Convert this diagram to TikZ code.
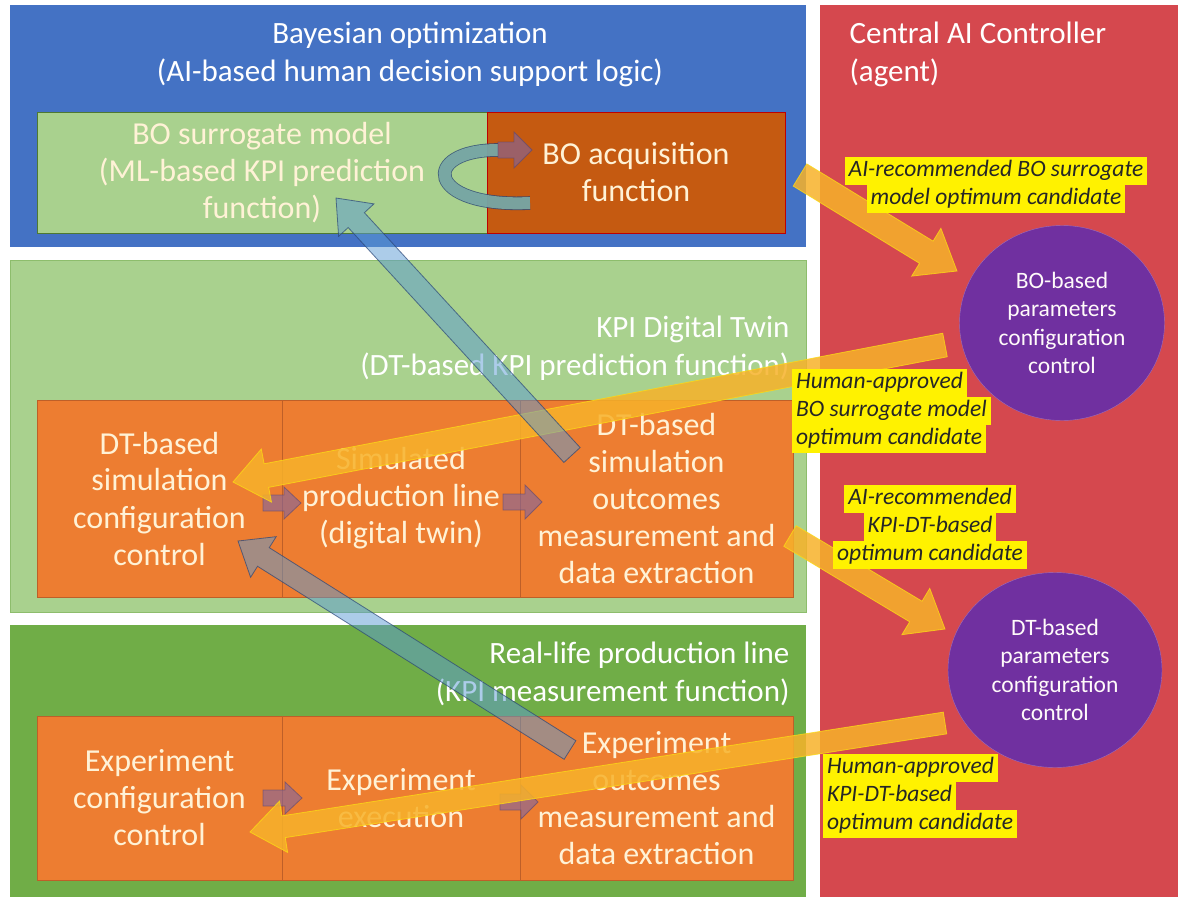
\documentclass[tikz,border=0pt]{standalone}
\usepackage{fontspec}
\setmainfont{Carlito}
\usepackage{xcolor}
\usetikzlibrary{calc, shapes.geometric}

\definecolor{boblue}{RGB}{68,114,196}
\definecolor{ctrlred}{RGB}{213,72,78}
\definecolor{dtgreen}{RGB}{169,209,142}
\definecolor{realgreen}{RGB}{112,173,71}
\definecolor{cellorange}{RGB}{237,125,49}
\definecolor{cellline}{RGB}{190,95,40}
\definecolor{acqorange}{RGB}{197,90,17}
\definecolor{ctrlpurple}{RGB}{112,48,160}
\definecolor{flowamber}{RGB}{247,178,42}
\definecolor{flowblue}{RGB}{91,155,213}
\definecolor{stepviolet}{RGB}{128,100,162}
\definecolor{cream}{RGB}{255,242,214}

\newcommand{\cellfont}{\fontsize{32}{37}\selectfont}
\newcommand{\titlefont}{\fontsize{31}{38}\selectfont}
\newcommand{\ctrlfont}{\fontsize{23.5}{28.5}\selectfont}
\newcommand{\notefont}{\fontsize{23.5}{28}\selectfont\itshape}
\newcommand{\hl}[1]{{\fboxsep=0pt\colorbox{yellow}{\strut\,#1\,}}}

% block arrow: style, from, to, half shaft, half head, head length
\newcommand{\fatarrow}[6]{%
  \coordinate (fa-neck) at ($(#3)!#6!(#2)$);
  \filldraw[#1] ($(#2)!#4!90:(#3)$) -- ($(fa-neck)!#4!90:(#3)$) -- ($(fa-neck)!#5!90:(#3)$)
    -- (#3) -- ($(fa-neck)!#5!-90:(#3)$) -- ($(fa-neck)!#4!-90:(#3)$) -- ($(#2)!#4!-90:(#3)$) -- cycle;
}

\begin{document}
\begin{tikzpicture}[x=1pt, y=-1pt,
  cell/.style={draw=cellline, fill=cellorange, text=cream, font=\cellfont, align=center, inner sep=0pt},
  ctrl/.style={ellipse, fill=ctrlpurple, draw=ctrlpurple!70!white, text=white!92!pink, font=\ctrlfont,
    align=center, minimum width=205pt, minimum height=195pt},
  title/.style={text=white, font=\titlefont},
  note/.style={font=\notefont, text=black!85, inner sep=0pt},
  amber/.style={fill=flowamber, fill opacity=0.85, draw=flowamber!50!yellow, draw opacity=0.8, line width=0.8pt},
  steel/.style={fill=flowblue, fill opacity=0.5, draw=boblue!60!black, draw opacity=0.7, line width=0.8pt},
  nudge/.style={fill=stepviolet, fill opacity=0.6, draw=stepviolet!70!black, draw opacity=0.6, line width=0.8pt}]

\fill[white] (0,0) rectangle (1178,897);
\useasboundingbox (0,0) rectangle (1178,897);

% panels
\fill[boblue] (10,5) rectangle (806,247);
\fill[ctrlred] (820,5) rectangle (1178,897);
\filldraw[fill=dtgreen, draw=realgreen!80!white] (10,260) rectangle (806,612);
\fill[realgreen] (10,625) rectangle (806,897);

\node[title, align=center] (botitle) at (410,54) {Bayesian optimization\\(AI-based human decision support logic)};
\node[title, align=left, anchor=west] (ctrltitle) at (846,54) {Central AI Controller\\(agent)};
\node[title, align=right, anchor=east] (dttitle) at (793,348) {KPI Digital Twin\\(DT-based KPI prediction function)};
\node[title, align=right, anchor=east] (realtitle) at (793,674) {Real-life production line\\(KPI measurement function)};

% Bayesian optimization boxes
\node[cell, fill=dtgreen, draw=realgreen!70!black, minimum width=450pt, minimum height=121pt] (surrogate) at (262,172.5)
  {BO surrogate model\\(ML-based KPI prediction\\function)};
\node[cell, fill=acqorange, draw=red!75!black, minimum width=298pt, minimum height=121pt] (acq) at (636,172.5)
  {BO acquisition\\function};

% digital twin row
\node[cell, minimum width=245pt, minimum height=197pt] (dtcfg) at (159.5,498.5) {DT-based\\simulation\\configuration\\control};
\node[cell, minimum width=238pt, minimum height=197pt] (dtline) at (401,498.5) {Simulated\\production line\\(digital twin)};
\node[cell, minimum width=273pt, minimum height=197pt] (dtmeas) at (656.5,498.5) {DT-based\\simulation\\outcomes\\measurement and\\data extraction};

% real-life row
\node[cell, minimum width=245pt, minimum height=164pt] (excfg) at (159.5,798) {Experiment\\configuration\\control};
\node[cell, minimum width=238pt, minimum height=164pt] (exrun) at (401,798) {Experiment\\execution};
\node[cell, minimum width=273pt, minimum height=164pt] (exmeas) at (656.5,798) {Experiment\\outcomes\\measurement and\\data extraction};

% controller
\node[ctrl] (boctrl) at (1062,323) {BO-based\\parameters\\configuration\\control};
\node[ctrl, minimum width=214pt] (dtctrl) at (1055,670) {DT-based\\parameters\\configuration\\control};

% arrow ends
\coordinate (o1a) at (800,175);  \coordinate (o1b) at (957,271);
\coordinate (o2a) at (945,345);  \coordinate (o2b) at (233,482);
\coordinate (o3a) at (790,536);  \coordinate (o3b) at (945,629);
\coordinate (o4a) at (945,723);  \coordinate (o4b) at (250,832);
\coordinate (b1a) at (572,455);  \coordinate (b1b) at (336,198);
\coordinate (b2a) at (570,750);  \coordinate (b2b) at (238,541);
\coordinate (s1a) at (263,503);  \coordinate (s1b) at (301,503);
\coordinate (s2a) at (503,502);  \coordinate (s2b) at (542,502);
\coordinate (s3a) at (263,798);  \coordinate (s3b) at (302,798);
\coordinate (s4a) at (500,802);  \coordinate (s4b) at (538,802);
\coordinate (r1a) at (498,150);  \coordinate (r1b) at (532,150);

% small arrows between cells
\fatarrow{nudge}{s1a}{s1b}{8pt}{16pt}{17pt}
\fatarrow{nudge}{s2a}{s2b}{8pt}{17pt}{17pt}
\fatarrow{nudge}{s3a}{s3b}{8pt}{16pt}{17pt}
\fatarrow{nudge}{s4a}{s4b}{8pt}{17pt}{17pt}

% BO loop
\draw[draw=boblue!60!black, draw opacity=0.8, line width=0.8pt, double=flowblue!45!dtgreen, double distance=12pt]
  (530,203) .. controls (425,208) and (420,150) .. (498,150);
\fatarrow{nudge}{r1a}{r1b}{8pt}{18pt}{18pt}

% recommendation / approval flows
\fatarrow{amber}{o1a}{o1b}{13pt}{28pt}{36pt}
\fatarrow{amber}{o2a}{o2b}{12pt}{27pt}{34pt}
\fatarrow{amber}{o3a}{o3b}{12pt}{27pt}{34pt}
\fatarrow{amber}{o4a}{o4b}{11pt}{26pt}{34pt}

% measurement feedback
\fatarrow{steel}{b1a}{b1b}{11pt}{24pt}{30pt}
\fatarrow{steel}{b2a}{b2b}{11pt}{24pt}{30pt}

% labels
\node[note, align=center] (recbo) at (996,185) {\hl{AI-recommended BO surrogate}\\\hl{model optimum candidate}};
\node[note, align=left, anchor=west] (appbo) at (792,411) {\hl{Human-approved}\\\hl{BO surrogate model}\\\hl{optimum candidate}};
\node[note, align=center] (recdt) at (930,527) {\hl{AI-recommended}\\\hl{KPI-DT-based}\\\hl{optimum candidate}};
\node[note, align=left, anchor=west] (appdt) at (823,796) {\hl{Human-approved}\\\hl{KPI-DT-based}\\\hl{optimum candidate}};

\end{tikzpicture}
\end{document}
